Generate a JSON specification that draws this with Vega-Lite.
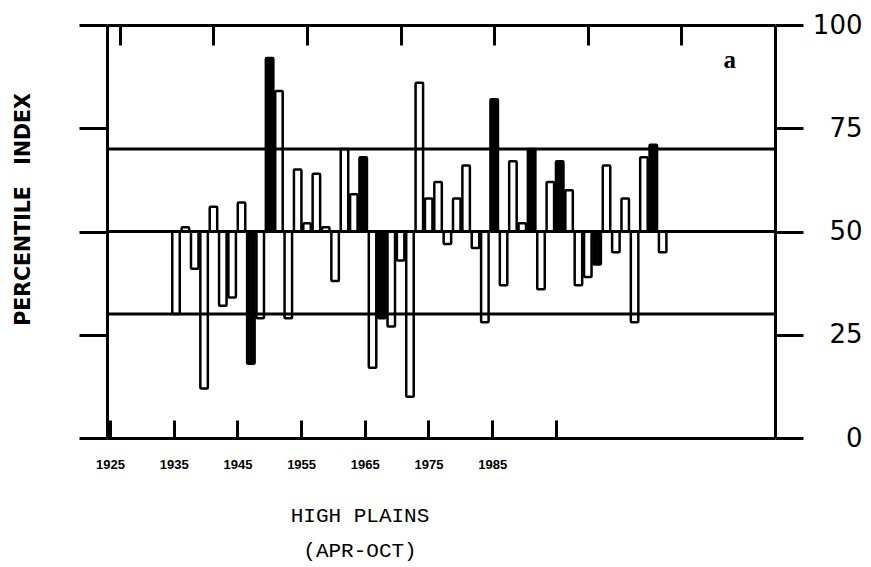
{
  "$schema": "https://vega.github.io/schema/vega-lite/v6.json",
  "width": 668,
  "height": 413,
  "autosize": {"type": "none"},
  "padding": {"left": 107, "top": 25, "right": 96, "bottom": 129},
  "background": "white",
  "config": {
    "view": {"stroke": null},
    "axis": {
      "domainColor": "black",
      "tickColor": "black",
      "domainWidth": 3,
      "tickWidth": 3,
      "grid": false,
      "labelColor": "black",
      "titleColor": "black"
    }
  },
  "title": {
    "text": ["HIGH PLAINS", "(APR-OCT)"],
    "orient": "bottom",
    "anchor": "middle",
    "frame": "group",
    "font": "Liberation Mono",
    "fontSize": 21,
    "fontWeight": "normal",
    "lineHeight": 35,
    "dx": -81,
    "offset": 34,
    "color": "black"
  },
  "layer": [
    {
      "data": {
        "values": [
          {"year": 1931, "index": 30, "highlight": "no"},
          {"year": 1932, "index": 51, "highlight": "no"},
          {"year": 1933, "index": 41, "highlight": "no"},
          {"year": 1934, "index": 12, "highlight": "no"},
          {"year": 1935, "index": 56, "highlight": "no"},
          {"year": 1936, "index": 32, "highlight": "no"},
          {"year": 1937, "index": 34, "highlight": "no"},
          {"year": 1938, "index": 57, "highlight": "no"},
          {"year": 1939, "index": 18, "highlight": "yes"},
          {"year": 1940, "index": 29, "highlight": "no"},
          {"year": 1941, "index": 92, "highlight": "yes"},
          {"year": 1942, "index": 84, "highlight": "no"},
          {"year": 1943, "index": 29, "highlight": "no"},
          {"year": 1944, "index": 65, "highlight": "no"},
          {"year": 1945, "index": 52, "highlight": "no"},
          {"year": 1946, "index": 64, "highlight": "no"},
          {"year": 1947, "index": 51, "highlight": "no"},
          {"year": 1948, "index": 38, "highlight": "no"},
          {"year": 1949, "index": 70, "highlight": "no"},
          {"year": 1950, "index": 59, "highlight": "no"},
          {"year": 1951, "index": 68, "highlight": "yes"},
          {"year": 1952, "index": 17, "highlight": "no"},
          {"year": 1953, "index": 29, "highlight": "yes"},
          {"year": 1954, "index": 27, "highlight": "no"},
          {"year": 1955, "index": 43, "highlight": "no"},
          {"year": 1956, "index": 10, "highlight": "no"},
          {"year": 1957, "index": 86, "highlight": "no"},
          {"year": 1958, "index": 58, "highlight": "no"},
          {"year": 1959, "index": 62, "highlight": "no"},
          {"year": 1960, "index": 47, "highlight": "no"},
          {"year": 1961, "index": 58, "highlight": "no"},
          {"year": 1962, "index": 66, "highlight": "no"},
          {"year": 1963, "index": 46, "highlight": "no"},
          {"year": 1964, "index": 28, "highlight": "no"},
          {"year": 1965, "index": 82, "highlight": "yes"},
          {"year": 1966, "index": 37, "highlight": "no"},
          {"year": 1967, "index": 67, "highlight": "no"},
          {"year": 1968, "index": 52, "highlight": "no"},
          {"year": 1969, "index": 70, "highlight": "yes"},
          {"year": 1970, "index": 36, "highlight": "no"},
          {"year": 1971, "index": 62, "highlight": "no"},
          {"year": 1972, "index": 67, "highlight": "yes"},
          {"year": 1973, "index": 60, "highlight": "no"},
          {"year": 1974, "index": 37, "highlight": "no"},
          {"year": 1975, "index": 39, "highlight": "no"},
          {"year": 1976, "index": 42, "highlight": "yes"},
          {"year": 1977, "index": 66, "highlight": "no"},
          {"year": 1978, "index": 45, "highlight": "no"},
          {"year": 1979, "index": 58, "highlight": "no"},
          {"year": 1980, "index": 28, "highlight": "no"},
          {"year": 1981, "index": 68, "highlight": "no"},
          {"year": 1982, "index": 71, "highlight": "yes"},
          {"year": 1983, "index": 45, "highlight": "no"}
        ]
      },
      "mark": {"type": "bar", "width": 7.5, "stroke": "black", "strokeWidth": 2.5, "cornerRadius": 1},
      "encoding": {
        "x": {
          "field": "year",
          "type": "quantitative",
          "scale": {"domain": [1924.16, 1994.47], "nice": false, "zero": false},
          "axis": {
            "orient": "top",
            "values": [1925, 1935, 1945, 1955, 1965, 1975, 1985],
            "tickSize": -20,
            "labels": false,
            "title": null
          }
        },
        "y": {
          "field": "index",
          "type": "quantitative",
          "scale": {"domain": [0, 100], "nice": false, "zero": false},
          "axis": {
            "orient": "left",
            "values": [0, 25, 50, 75, 100],
            "tickSize": 28,
            "labels": false,
            "title": "PERCENTILE\u00a0\u00a0\u00a0INDEX",
            "titleFont": "DejaVu Sans",
            "titleFontWeight": "bold",
            "titleFontSize": 20.5,
            "titleAngle": 270,
            "titleX": -84,
            "titleY": 184,
            "titleAlign": "center",
            "titleBaseline": "middle"
          }
        },
        "y2": {"datum": 50},
        "fill": {
          "field": "highlight",
          "type": "nominal",
          "scale": {"domain": ["no", "yes"], "range": ["white", "black"]},
          "legend": null
        }
      }
    },
    {
      "data": {"values": [{"level": 30}, {"level": 50}, {"level": 70}]},
      "mark": {"type": "rule", "color": "black", "strokeWidth": 3},
      "encoding": {
        "y": {
          "field": "level",
          "type": "quantitative",
          "axis": {
            "orient": "right",
            "values": [0, 25, 50, 75, 100],
            "tickSize": 28,
            "labelAlign": "right",
            "labelBaseline": "middle",
            "labelPadding": 59,
            "labelFont": "DejaVu Sans",
            "labelFontSize": 26,
            "labelFontWeight": "normal",
            "title": null
          }
        }
      }
    },
    {
      "data": {
        "values": [
          {"decade": 1925}, {"decade": 1935}, {"decade": 1945}, {"decade": 1955},
          {"decade": 1965}, {"decade": 1975}, {"decade": 1985}, {"decade": 1995}
        ]
      },
      "mark": {"type": "tick", "opacity": 0},
      "encoding": {
        "x": {
          "field": "decade",
          "type": "quantitative",
          "scale": {"domain": [1924.53, 2029.4], "nice": false, "zero": false},
          "axis": {
            "orient": "bottom",
            "values": [1925, 1935, 1945, 1955, 1965, 1975, 1985, 1995],
            "format": "d",
            "labelExpr": "datum.value > 1990 ? '' : datum.label",
            "tickSize": -18,
            "labelPadding": 38,
            "labelFont": "Liberation Sans",
            "labelFontWeight": "bold",
            "labelFontSize": 13,
            "title": null
          }
        }
      }
    },
    {
      "data": {"values": [{"panel": "a"}]},
      "mark": {"type": "text", "font": "Liberation Serif", "fontWeight": "bold", "fontSize": 25, "color": "black"},
      "encoding": {
        "x": {"datum": 1989.7, "type": "quantitative", "scale": {"domain": [1924.16, 1994.47], "nice": false, "zero": false}, "axis": null},
        "y": {"datum": 91.5, "type": "quantitative", "axis": null},
        "text": {"field": "panel"}
      }
    }
  ],
  "resolve": {
    "scale": {"x": "independent"},
    "axis": {"x": "independent", "y": "independent"}
  }
}
